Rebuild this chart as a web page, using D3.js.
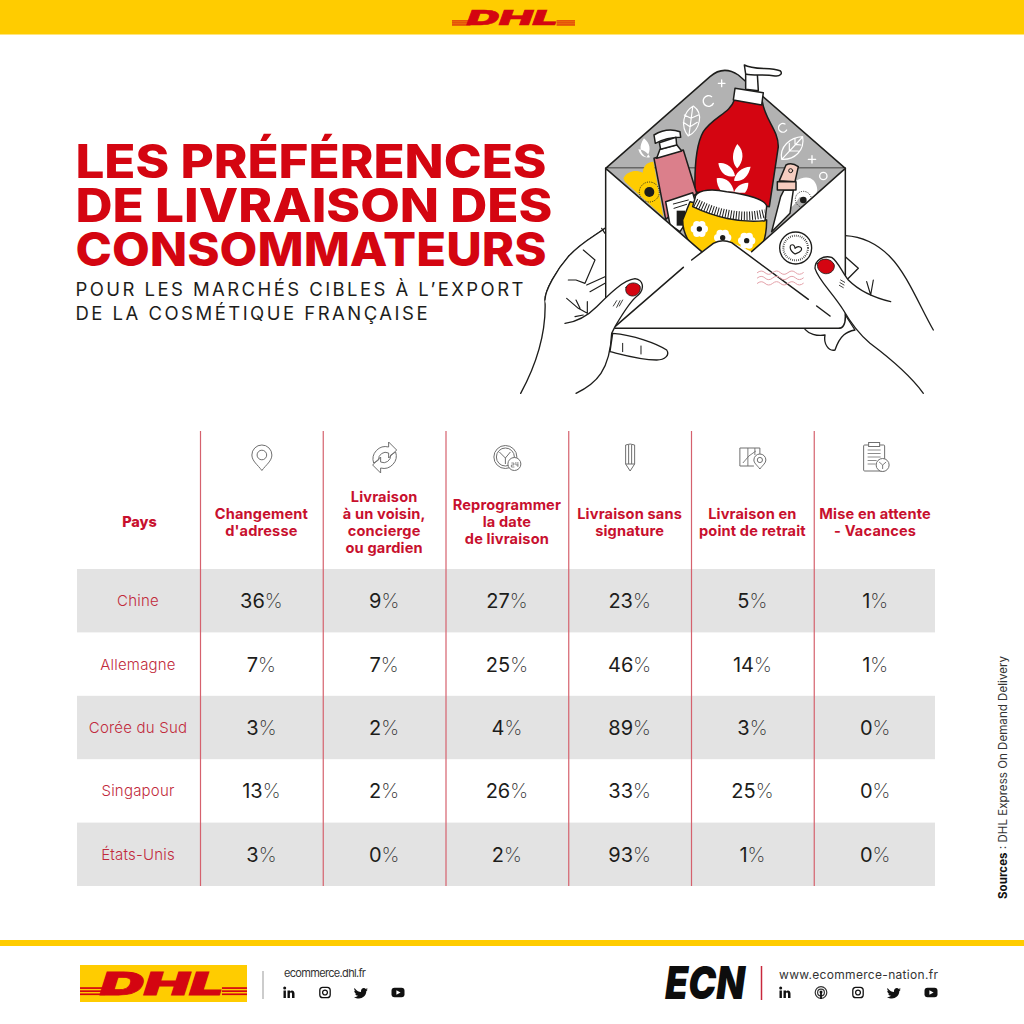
<!DOCTYPE html>
<html>
<head>
<meta charset="utf-8">
<script src="https://cdn.jsdelivr.net/npm/d3@7"></script>
<style>
  html, body { margin: 0; padding: 0; background: #fff; }
  svg { display: block; }
  text { font-family: Inter, "Noto Sans", sans-serif; }
</style>
</head>
<body>
<svg id="chart" width="1024" height="1024"></svg>
<script>
// table content
const countries = ['Chine', 'Allemagne', 'Corée du Sud', 'Singapour', 'États-Unis'];
const headers = [
  ['Changement', "d'adresse"],
  ['Livraison', 'à un voisin,', 'concierge', 'ou gardien'],
  ['Reprogrammer', 'la date', 'de livraison'],
  ['Livraison sans', 'signature'],
  ['Livraison en', 'point de retrait'],
  ['Mise en attente', '- Vacances']
];
const chine = [36, 9, 27, 23, 5, 1];
const allemagne = [7, 7, 25, 46, 14, 1];
const coree = [3, 2, 4, 89, 3, 0];
const singapour = [13, 2, 26, 33, 25, 0];
const etatsUnis = [3, 0, 2, 93, 1, 0];
const rows = [chine, allemagne, coree, singapour, etatsUnis];

const titleLines = ['LES PRÉFÉRENCES', 'DE LIVRAISON DES', 'CONSOMMATEURS'];
const subtitleLines = ['POUR LES MARCHÉS CIBLES À L’EXPORT', 'DE LA COSMÉTIQUE FRANÇAISE'];

const red = '#d40511';
const yellow = '#ffcc00';
const ink = '#1d1d1b';

var svg = d3.select('#chart');

// ---- bars top and bottom
svg.append('rect').attr('width', 1024).attr('height', 34.5).attr('fill', yellow);
svg.append('rect').attr('y', 940).attr('width', 1024).attr('height', 6).attr('fill', yellow);

// ---- title
var titleWidths = [471, 477, 471];
svg.selectAll('.title').data(titleLines).enter().append('text')
  .attr('class', 'title')
  .attr('x', 75.5)
  .attr('y', (d, i) => 178 + i * 44)
  .attr('textLength', (d, i) => titleWidths[i])
  .attr('lengthAdjust', 'spacingAndGlyphs')
  .attr('font-size', 46)
  .attr('font-weight', 800)
  .attr('fill', red)
  .text(d => d);

var subWidths = [448, 352];
svg.selectAll('.subtitle').data(subtitleLines).enter().append('text')
  .attr('class', 'subtitle')
  .attr('x', 75.5)
  .attr('y', (d, i) => 296 + i * 23.5)
  .attr('textLength', (d, i) => subWidths[i])
  .attr('font-size', 18.5)
  .attr('font-weight', 400)
  .attr('fill', ink)
  .text(d => d);

// ---- table
var colX = d3.scaleBand().domain(d3.range(headers.length)).range([200.5, 937]);
var rowY = d3.scaleBand().domain(countries).range([569, 886]);
var firstColX = 138;
var headerY = 522;
var lineGap = 17;

svg.selectAll('.band')
  .data(countries.filter((d, i) => i % 2 === 0))
  .enter().append('rect')
  .attr('class', 'band')
  .attr('x', 77).attr('width', 858)
  .attr('y', d => rowY(d)).attr('height', rowY.bandwidth())
  .attr('fill', '#e3e3e3');

svg.selectAll('.sep')
  .data(d3.range(headers.length))
  .enter().append('line')
  .attr('class', 'sep')
  .attr('x1', d => colX(d)).attr('x2', d => colX(d))
  .attr('y1', 431).attr('y2', 886)
  .attr('stroke', '#d5616d').attr('stroke-width', 1.2);

svg.append('text')
  .attr('x', 139.5).attr('y', headerY + 5)
  .attr('text-anchor', 'middle')
  .attr('font-size', 14.5).attr('font-weight', 800).attr('fill', '#c8102e')
  .text('Pays');

var headerSel = svg.selectAll('.header').data(headers).enter().append('g')
  .attr('class', 'header')
  .attr('transform', (d, i) => `translate(${colX(i) + colX.bandwidth() / 2 - 0.5},0)`);
headerSel.selectAll('text').data(d => d.map((t, i) => ({ t, i, n: d.length })))
  .enter().append('text')
  .attr('y', d => headerY + 5 + (d.i - (d.n - 1) / 2) * lineGap)
  .attr('text-anchor', 'middle')
  .attr('font-size', 14.6).attr('font-weight', 700).attr('letter-spacing', 0.15)
  .attr('fill', '#c8102e')
  .text(d => d.t);

svg.selectAll('.country').data(countries).enter().append('text')
  .attr('class', 'country')
  .attr('x', firstColX)
  .attr('y', d => rowY(d) + rowY.bandwidth() / 2 + 5.5)
  .attr('text-anchor', 'middle')
  .attr('font-size', 15).attr('font-weight', 300).attr('letter-spacing', 0.2).attr('fill', '#c12a3c')
  .text(d => d);

var rowSel = svg.selectAll('.row').data(rows).enter().append('g')
  .attr('class', 'row')
  .attr('transform', (d, i) => `translate(0,${rowY(countries[i]) + rowY.bandwidth() / 2 + 7.5})`);
var cellSel = rowSel.selectAll('text').data(d => d).enter().append('text')
  .attr('x', (d, i) => colX(i) + colX.bandwidth() / 2 - 0.5)
  .attr('text-anchor', 'middle')
  .attr('font-size', 20)
  .attr('fill', ink);
cellSel.append('tspan').attr('font-weight', 400).text(d => d);
cellSel.append('tspan').attr('font-weight', 200).attr('fill', '#333').text('%');

// ---- column icons
var icons = svg.append('g').attr('fill', 'none').attr('stroke', '#6f6f6f').attr('stroke-width', 1);
function icon(i, y) {
  return icons.append('g').attr('transform', `translate(${colX(i) + colX.bandwidth() / 2},${y})`);
}
var pin = icon(0, 458);
pin.append('path').attr('d', 'M0,12.5 C-4,7 -10,3 -10,-3 A10,10 0 1 1 10,-3 C10,3 4,7 0,12.5Z');
pin.append('circle').attr('cy', -3).attr('r', 4.8);

var refresh = icon(1, 457);
refresh.append('path').attr('d', 'M-11,6 A12.5,12.5 0 0 1 4,-10 L4,-15 L12,-7 L4,1 L4,-4 A7,7 0 0 0 -6,3 Z');
refresh.append('path').attr('d', 'M11,-5 A12.5,12.5 0 0 1 -4,11 L-4,16 L-12,8 L-4,0 L-4,5 A7,7 0 0 0 6,-2 Z');

var clock = icon(2, 458);
clock.append('circle').attr('cx', -2).attr('cy', -1).attr('r', 11.5);
clock.append('circle').attr('cx', -2).attr('cy', -1).attr('r', 9);
clock.append('path').attr('d', 'M-2,0 L-8,-6 M-2,0 L3,-6 M-2,0 L-2,6');
clock.append('circle').attr('cx', 7).attr('cy', 6).attr('r', 6.5).attr('fill', '#fff');
clock.append('path').attr('d', 'M4,5 h2.5 v2 h-2.5 v2 h3 M8.5,4 v3 h2.5 M10.5,4 v5').attr('stroke-width', 0.8);

var pencil = icon(3, 457);
pencil.append('path').attr('d', 'M-4.5,-12 Q0,-14 4.5,-12 L4.5,7 L0,14 L-4.5,7 Z');
pencil.append('path').attr('d', 'M-1.5,-12 V7 M1.5,-12 V7 M-4.5,7 H4.5');

var map = icon(4, 457);
map.append('path').attr('d', 'M-13,-9 H7 V0 M-13,-9 V9 H1');
map.append('path').attr('d', 'M-5,-9 V9 M2,-9 V-2 M-10,6 L-4,-1 L3,-6').attr('stroke-width', 0.9);
map.append('path').attr('d', 'M7,12 C4,8 1,6 1,3 A6,6 0 0 1 13,3 C13,6 10,8 7,12 Z').attr('fill', '#fff');
map.append('circle').attr('cx', 7).attr('cy', 3).attr('r', 2.6);

var clip = icon(5, 457);
clip.append('rect').attr('x', -12).attr('y', -12).attr('width', 21).attr('height', 26).attr('rx', 1);
clip.append('rect').attr('x', -7).attr('y', -14.5).attr('width', 11).attr('height', 4).attr('fill', '#fff');
clip.append('path').attr('d', 'M-8,-7 H5 M-8,-3.5 H5 M-8,0 H5 M-8,3.5 H1 M-8,7 H0').attr('stroke-width', 0.8);
clip.append('circle').attr('cx', 7).attr('cy', 8).attr('r', 6.5).attr('fill', '#fff');
clip.append('path').attr('d', 'M7,8 L3.5,5 M7,8 L10.5,5 M7,8 V12').attr('stroke-width', 0.9);

// ---- illustration, drawn in zoom coordinates (3x, origin 500,50)
var art = svg.append('g')
  .attr('transform', 'translate(500,50) scale(0.33333)')
  .attr('stroke-linejoin', 'round').attr('stroke-linecap', 'round');
function shape(d, fill, stroke, sw) {
  return art.append('path').attr('d', d)
    .attr('fill', fill || 'none')
    .attr('stroke', stroke === undefined ? ink : stroke)
    .attr('stroke-width', sw || 4.5);
}

// hands behind the envelope
shape('M1036,557 C1090,560 1130,580 1170,620 C1220,670 1260,770 1300,840', 'none', ink, 4);
shape('M1036,620 L1075,655 L1040,690', 'none', ink, 4);

// flap and inside
shape('M317,355 L630,80 Q670,45 715,75 L1036,355 Z', '#b2b2b2');
shape('M317,355 L605,605 L755,605 L1036,355 Z', '#b2b2b2', 'none');

// flap decorations
art.append('g').attr('fill', 'none').attr('stroke', '#fff').attr('stroke-width', 4)
  .selectAll('path')
  .data([
    'M655,100 H675 M665,90 V110', 'M925,328 H947 M936,317 V339',
    'M635,140 A16,16 0 1 0 640,160', 'M855,222 A13,13 0 1 0 860,240'
  ]).enter().append('path').attr('d', d => d);
art.append('circle').attr('cx', 970).attr('cy', 378).attr('r', 11).attr('fill', 'none').attr('stroke', '#fff').attr('stroke-width', 4);
shape('M580,168 C550,185 540,230 565,258 C600,240 612,190 580,168 Z M578,172 L567,255 M573,205 L553,195 M573,205 L595,195 M570,230 L550,217 M570,230 L592,217', '#b2b2b2', '#fff', 3.5);
shape('M908,260 C870,262 838,290 845,328 C885,330 915,300 908,260 Z M848,325 L905,264 M868,303 L868,280 M868,303 L895,303 M885,283 L885,266 M885,283 L903,285', '#b2b2b2', '#fff', 3.5);
shape('M432,265 C415,290 420,310 440,322 C455,300 450,280 432,265 Z M415,298 C430,298 445,310 450,322 C430,325 420,315 415,298 Z', '#fff', 'none');
shape('M885,395 C920,370 950,385 952,420 C945,450 925,470 900,440 C880,470 860,490 855,470 Z', '#fff', 'none');

// yellow flower left
shape('M370,385 C385,360 410,360 428,368 C430,345 445,335 460,335 L490,500 L375,395 Z', yellow, 'none');
art.append('circle').attr('cx', 448).attr('cy', 426).attr('r', 30).attr('fill', 'none').attr('stroke', ink).attr('stroke-width', 3).attr('stroke-dasharray', '3 4').attr('stroke-linecap', 'butt');
art.append('circle').attr('cx', 448).attr('cy', 426).attr('r', 15).attr('fill', ink);
// small flower right
art.append('circle').attr('cx', 910).attr('cy', 448).attr('r', 24).attr('fill', 'none').attr('stroke', ink).attr('stroke-width', 3).attr('stroke-dasharray', '3 4').attr('stroke-linecap', 'butt');
art.append('circle').attr('cx', 910).attr('cy', 450).attr('r', 10).attr('fill', ink);

// pump bottle
shape('M703,150 C690,190 640,200 610,245 C590,280 583,340 585,425 L808,470 L835,290 C835,240 795,210 787,155 Z', '#d40511');
shape('M737,72 H772 L775,122 L737,118 Z', '#fff');
shape('M705,115 L790,128 L785,165 L700,150 Z', '#fff');
shape('M733,45 C760,60 810,52 840,62 C850,70 840,80 825,78 C790,72 760,78 737,72 Z', '#fff');
// leaf on bottle
shape('M712,282 C690,315 700,345 712,355 C730,335 735,305 712,282 Z', '#fff', 'none');
shape('M655,340 C675,335 700,350 705,378 C680,385 660,370 655,340 Z', '#fff', 'none');
shape('M752,350 C725,350 705,370 702,392 C725,398 745,380 752,350 Z', '#fff', 'none');
shape('M650,385 C675,380 695,395 702,425 L665,425 C655,415 650,400 650,385 Z', '#fff', 'none');
shape('M745,398 C720,398 705,415 702,428 L735,428 C742,420 745,410 745,398 Z', '#fff', 'none');

// spray bottle
shape('M852,420 L880,420 L870,490 L815,545 L842,440 Z', '#fff');
shape('M838,392 L858,345 Q875,335 895,350 L885,395 Z', '#f6cdc0');
art.append('circle').attr('cx', 872).attr('cy', 362).attr('r', 6).attr('fill', 'none').attr('stroke', ink).attr('stroke-width', 3);
shape('M832,395 H888 V420 H832 Z', '#f6cdc0');

// tube
shape('M462,325 L550,300 L590,430 L497,508 Z', '#db7f8b');
shape('M480,298 L530,284 L545,303 L470,325 Z', '#fff');
shape('M462,255 Q500,232 540,245 L542,262 Q500,262 466,280 Z', '#fff');
shape('M478,278 L528,262 L530,285 L482,298 Z', '#fff');
shape('M497,455 L578,428 L590,470 L540,545 L510,525 Z', '#fff');
art.append('rect').attr('x', 530).attr('y', 482).attr('width', 25).attr('height', 45).attr('fill', ink);
shape('M520,462 L565,450 M522,475 L560,463', 'none', ink, 3);

// jar
shape('M570,455 L800,510 C800,560 790,590 770,610 L600,610 C570,590 548,550 548,510 Z', yellow);
shape('M585,445 C585,425 620,412 680,425 C740,432 800,450 800,470 L795,512 C720,520 640,500 578,470 Z', '#fff');
art.append('path').attr('d', 'M586,458 C650,492 730,508 796,490')
  .attr('fill', 'none').attr('stroke', ink).attr('stroke-width', 26)
  .attr('stroke-dasharray', '3 5').attr('stroke-linecap', 'butt');
var jarFlowers = [[598, 537], [668, 563], [740, 572]];
var petals = d3.range(6).map(i => i * Math.PI / 3);
jarFlowers.forEach(([cx, cy]) => {
  art.selectAll(null).data(petals).enter().append('circle')
    .attr('cx', a => cx + 15 * Math.cos(a)).attr('cy', a => cy + 15 * Math.sin(a))
    .attr('r', 11).attr('fill', '#fff');
  art.append('circle').attr('cx', cx).attr('cy', cy).attr('r', 8).attr('fill', ink);
});

// envelope front
shape('M317,355 L605,605 L640,580 Q660,565 690,575 L755,605 L1036,355 V820 Q1036,835 1020,835 H317 Z', '#fff', 'none');
shape('M317,355 L605,605 M1036,355 L755,605 M317,355 V745 M1036,355 V800 Q1036,835 1015,835 H345', 'none', ink, 4.5);
shape('M345,830 L550,652 M575,630 L640,580 Q665,565 695,578 L925,748 M950,768 L990,798', 'none', ink, 4.5);

// stamp
art.append('circle').attr('cx', 887).attr('cy', 594).attr('r', 48).attr('fill', '#fff').attr('stroke', ink).attr('stroke-width', 4);
art.append('circle').attr('cx', 887).attr('cy', 594).attr('r', 37).attr('fill', 'none').attr('stroke', ink).attr('stroke-width', 6).attr('stroke-dasharray', '2 4').attr('stroke-linecap', 'butt');
shape('M885,612 C865,600 868,580 880,585 C885,588 885,592 885,595 C895,585 910,592 903,602 C898,608 890,610 885,612 Z', '#fff', ink, 3.5);
// postmark waves
[668, 684, 700].forEach(y => {
  shape(`M772,${y} q12,-10 23,0 t23,0 t23,0 t23,0 t23,0 t23,0`, 'none', '#e3a0a8', 3);
});

// left hand
shape('M62,1030 C100,960 140,860 135,750 C135,720 170,660 205,620 C240,580 280,560 315,535', 'none', ink, 4);
shape('M228,1030 C290,1000 330,960 335,850 L345,830 C380,770 400,745 415,735 C435,715 430,690 405,686 C370,690 330,730 290,770 C265,795 230,815 195,820', '#fff', 'none');
art.append('path').attr('d', 'M135,750 C135,720 170,660 205,620 C240,580 280,560 315,535 V745 L290,770 C265,795 230,815 195,820 L160,850 Z').attr('fill', '#fff');
shape('M228,1030 C290,1000 330,960 335,850 L345,830 C380,770 400,745 415,735 C435,715 430,690 405,686 C370,690 330,730 290,770 C265,795 230,815 195,820', 'none', ink, 4);
shape('M135,750 C135,720 170,660 205,620 C240,580 280,560 315,535', 'none', ink, 4);
shape('M315,550 L305,535 M250,600 L285,630 L255,700 L228,690 L205,690 M260,705 L315,680 M270,725 L315,700 M200,745 L235,775 L262,790 M228,750 L240,775 M262,755 L262,790 M225,800 L250,795', 'none', ink, 3.5);
shape('M350,752 L340,768 M360,752 L350,772 M368,750 L358,768', 'none', ink, 2.5);
shape('M378,712 C385,695 410,695 420,708 C425,725 410,740 395,738 C380,735 375,725 378,712 Z', red, ink, 2.5);
shape('M338,850 C400,855 470,880 500,900 C510,915 495,930 470,930 C420,930 370,915 330,905 Z', '#fff', ink, 4);
shape('M368,880 V905 M423,888 V912', 'none', ink, 3);

// right hand thumb over envelope
shape('M1172,755 C1130,745 1080,725 1045,690 C1025,665 1015,635 995,622 C970,615 945,630 945,655 C955,690 995,725 1030,780 C1050,815 1075,850 1110,880 C1170,925 1230,975 1270,1030', '#fff', 'none');
shape('M1172,755 C1130,745 1080,725 1045,690 C1025,665 1015,635 995,622 C970,615 945,630 945,655 C955,690 995,725 1030,780 C1050,815 1075,850 1110,880 C1170,925 1230,975 1270,1030', 'none', ink, 4);
shape('M1036,795 L1065,840 C1040,845 1020,855 1005,900 C985,905 970,880 975,855 C950,860 925,850 915,838', 'none', ink, 4);
shape('M1100,695 L1112,735 M1120,690 L1112,735', 'none', ink, 3.5);
shape('M1022,690 L1034,697 M1020,698 L1032,705 M1018,706 L1030,713', 'none', ink, 2.5);
shape('M953,640 C965,620 995,625 1003,645 C1005,665 985,675 970,670 C958,665 950,655 953,640 Z', red, ink, 2.5);

// ---- DHL logo
function dhlLogo(g, x, y, w, h) {
  var lt = g.append('g');
  var stripeY = d3.scaleLinear().domain([0, 1]).range([y + h * 0.62, y + h * 0.82]);
  [0, 0.5, 1].forEach(t => {
    lt.append('rect').attr('x', x).attr('y', stripeY(t)).attr('width', w * 0.15).attr('height', h * 0.055).attr('fill', red);
    lt.append('rect').attr('x', x + w * 0.85).attr('y', stripeY(t)).attr('width', w * 0.15).attr('height', h * 0.055).attr('fill', red);
  });
  g.append('text')
    .attr('x', x + w * 0.12).attr('y', y + h * 0.87)
    .attr('textLength', w * 0.74).attr('lengthAdjust', 'spacingAndGlyphs')
    .attr('font-size', h * 1.02)
    .attr('font-weight', 900).attr('font-style', 'italic')
    .attr('fill', red).attr('stroke', red).attr('stroke-width', h * 0.025)
    .text('DHL');
}
dhlLogo(svg.append('g'), 452, 8, 123, 20);
svg.append('rect').attr('x', 80).attr('y', 965).attr('width', 167).attr('height', 37).attr('fill', yellow);
dhlLogo(svg.append('g'), 80, 968, 167, 31);

// ---- footer left
svg.append('line').attr('x1', 263).attr('x2', 263).attr('y1', 971).attr('y2', 999).attr('stroke', '#999').attr('stroke-width', 1);
svg.append('text').attr('x', 284).attr('y', 977).attr('font-size', 11).attr('fill', '#333')
  .attr('textLength', 82).text('ecommerce.dhl.fr');

// ---- footer right
svg.append('text').attr('x', 665).attr('y', 999)
  .attr('textLength', 80).attr('lengthAdjust', 'spacingAndGlyphs')
  .attr('font-size', 46).attr('font-weight', 900).attr('font-style', 'italic').attr('fill', '#0d0d0d')
  .text('ECN');
svg.append('line').attr('x1', 761.5).attr('x2', 761.5).attr('y1', 966).attr('y2', 1000).attr('stroke', '#c8283c').attr('stroke-width', 1.5);
svg.append('text').attr('x', 779).attr('y', 979).attr('font-size', 12).attr('fill', '#333')
  .attr('textLength', 159).text('www.ecommerce-nation.fr');

// social icons
var socialDraw = {
  linkedin(g) {
    g.append('rect').attr('x', -5.5).attr('y', -2).attr('width', 2.4).attr('height', 7.5);
    g.append('circle').attr('cx', -4.3).attr('cy', -4.6).attr('r', 1.5);
    g.append('path').attr('d', 'M-1.5,-2 H1 V-1 C2,-2.6 5.5,-2.6 5.5,1 V5.5 H3 V1.5 C3,-0.4 0.9,-0.4 0.9,1.5 V5.5 H-1.5 Z');
  },
  instagram(g) {
    g.append('rect').attr('x', -5.2).attr('y', -5.2).attr('width', 10.4).attr('height', 10.4).attr('rx', 3)
      .attr('fill', 'none').attr('stroke', '#111').attr('stroke-width', 1.3);
    g.append('circle').attr('r', 2.4).attr('fill', 'none').attr('stroke', '#111').attr('stroke-width', 1.3);
  },
  twitter(g) {
    g.append('path').attr('d', 'M-6.5,-4.5 C-4,-1.5 -2,-0.5 0,-0.5 C-0.5,-4 3,-5.5 4.8,-3.6 L6.6,-4.4 L5.5,-2.6 L6.8,-3 C6,-1.8 5.5,-1.5 5.3,-1.2 C5.3,3 1.5,6 -2,6 C-3.8,6 -5.5,5.5 -7,4.5 C-5.5,4.6 -4,4.2 -3,3.3 C-4.6,3.2 -5.5,2.2 -5.8,1.2 L-4.6,1.2 C-6,0.6 -6.8,-0.6 -6.7,-1.8 L-5.6,-1.4 C-6.8,-2.4 -7,-3.4 -6.5,-4.5 Z');
  },
  youtube(g) {
    g.append('rect').attr('x', -6.5).attr('y', -4.8).attr('width', 13).attr('height', 9.6).attr('rx', 3);
    g.append('path').attr('d', 'M-1.6,-2.2 L2.6,0 L-1.6,2.2 Z').attr('fill', '#fff');
  },
  podcast(g) {
    g.append('circle').attr('r', 5.8).attr('fill', 'none').attr('stroke', '#333').attr('stroke-width', 1.2);
    g.append('circle').attr('r', 3.4).attr('fill', 'none').attr('stroke', '#333').attr('stroke-width', 1.2);
    g.append('circle').attr('r', 1.5).attr('cy', -0.6);
    g.append('rect').attr('x', -0.9).attr('y', 0).attr('width', 1.8).attr('height', 6.5);
  }
};
var leftIcons = [['linkedin', 289], ['instagram', 325], ['twitter', 361], ['youtube', 398]];
var rightIcons = [['linkedin', 785], ['podcast', 821], ['instagram', 858], ['twitter', 894], ['youtube', 931]];
leftIcons.concat(rightIcons).forEach(([name, x]) => {
  var g = svg.append('g').attr('transform', `translate(${x},992.5)`).attr('fill', '#111');
  socialDraw[name](g);
});

// ---- source
var src = svg.append('text')
  .attr('transform', 'translate(1007,899) rotate(-90)')
  .attr('font-size', 11.5)
  .attr('textLength', 243)
  .attr('fill', '#333');
src.append('tspan').attr('font-weight', 700).attr('fill', '#111').text('Sources');
src.append('tspan').text(' : DHL Express On Demand Delivery');
</script>
</body>
</html>
